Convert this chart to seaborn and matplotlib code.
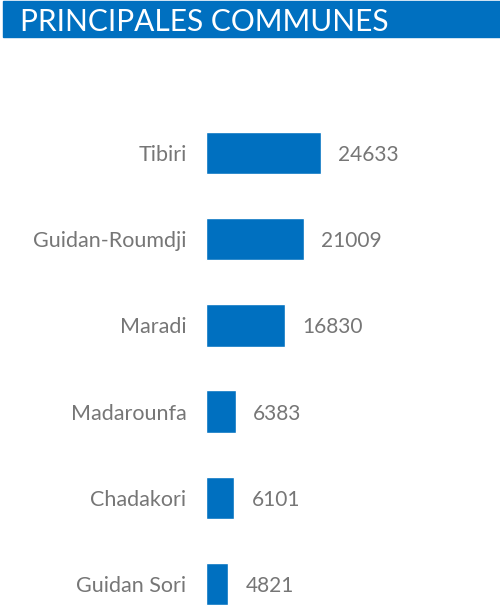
import matplotlib
matplotlib.use("Agg")
import matplotlib.pyplot as plt
import seaborn as sns
import pandas as pd
from matplotlib.patches import Rectangle

communes = ["Tibiri", "Guidan-Roumdji", "Maradi", "Madarounfa", "Chadakori", "Guidan Sori"]
values = [24633, 21009, 16830, 6383, 6101, 4821]
title = "PRINCIPALES COMMUNES"

sns.set_theme(style="white")
plt.rcParams["font.family"] = ["Lato", "DejaVu Sans"]

BLUE = "#0070C0"
GRAY = "#767676"

df = pd.DataFrame({"commune": communes, "value": values})

fig = plt.figure(figsize=(5.0, 6.08), dpi=100)
W, H = 500, 608

# title banner
fig.patches.append(Rectangle((3 / W, 1 - 37 / H), 497 / W, 36 / H,
                             transform=fig.transFigure, color=BLUE, zorder=0))
fig.text(20 / W, 1 - 31 / H, title, color="white", fontsize=21.5, va="baseline",
         ha="left")

ax = fig.add_axes([206 / W, 0, 294 / W, (608 - 110) / H])
sns.barplot(data=df, x="value", y="commune", color=BLUE, width=0.49,
            saturation=1, ax=ax, orient="h")
ax.set_xlim(0, 63000)
ax.set_ylim(5.28, -0.5)
for s in ax.spines.values():
    s.set_visible(False)
ax.set_xticks([])
ax.set_xlabel("")
ax.set_ylabel("")
ax.tick_params(axis="y", length=0, pad=14, labelsize=15.5, labelcolor=GRAY)
for lbl in ax.get_yticklabels():
    lbl.set_va("center_baseline")
for c in ax.containers:
    anns = ax.bar_label(c, labels=[str(v) for v in values], padding=12.5,
                        fontsize=15, color=GRAY)
    for a in anns:
        a.set_va("center_baseline")
ax.patch.set_alpha(0)

fig.savefig("out.png", dpi=100)
